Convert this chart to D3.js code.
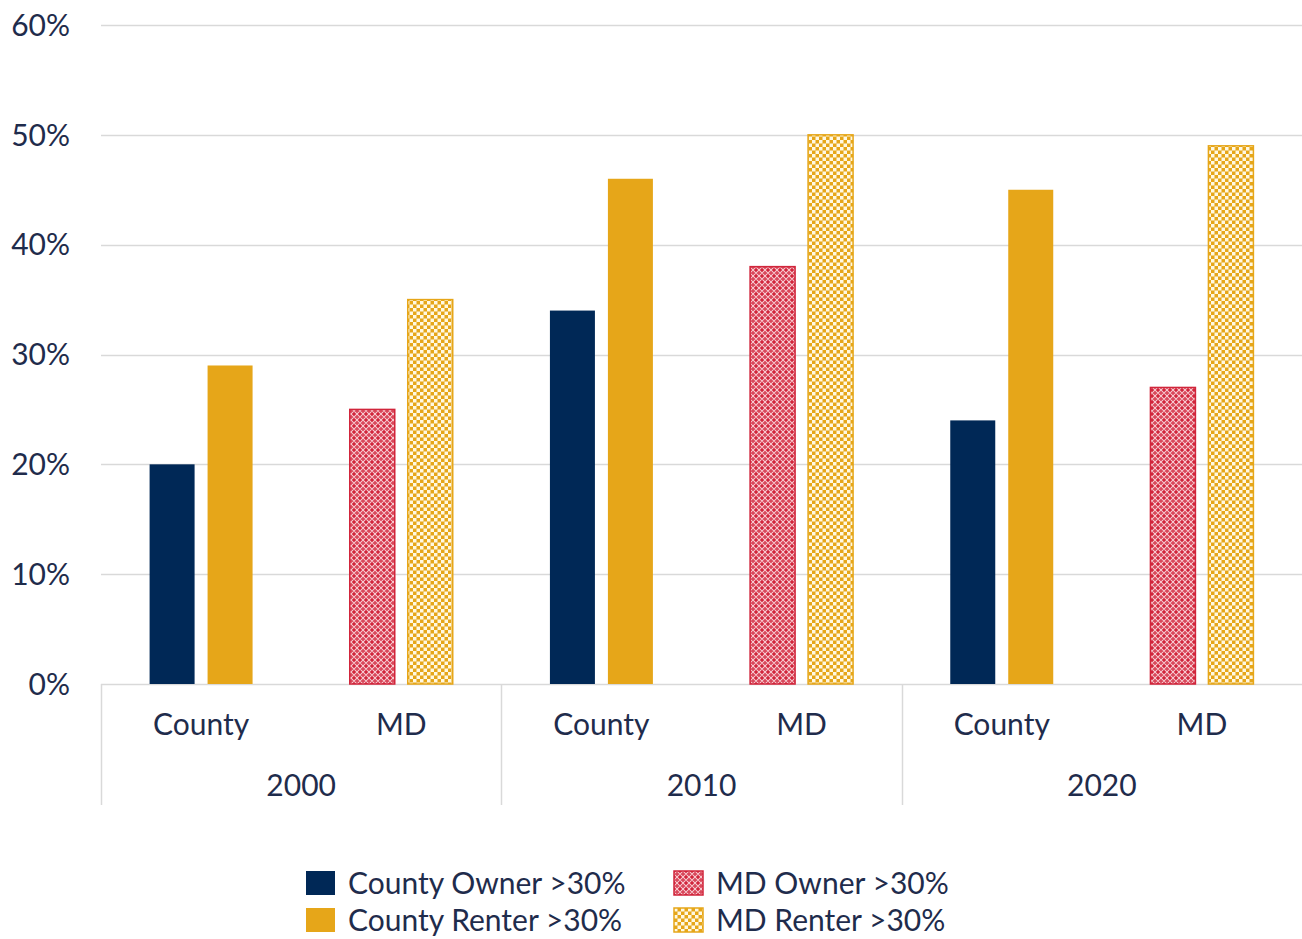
<!DOCTYPE html>
<html>
<head>
<meta charset="utf-8">
<script src="https://cdn.jsdelivr.net/npm/d3@7"></script>
<style>
  html, body { margin: 0; padding: 0; background: #fff; }
  svg text { font-family: Lato, "Noto Sans", sans-serif; fill: #1f2c4c; }
</style>
</head>
<body>
<svg id="chart" width="1302" height="939"></svg>
<script>
var years = ["2000", "2010", "2020"],
  regions = ["County", "MD"],
  tenures = ["Owner", "Renter"],
  yTicks = [0, 10, 20, 30, 40, 50, 60];

// share of households paying >30% of income, by year
var countyOwner = [20, 34, 24],
  countyRenter = [29, 46, 45],
  mdOwner = [25, 38, 27],
  mdRenter = [35, 50, 49];

var seriesNames = ["County Owner >30%", "County Renter >30%", "MD Owner >30%", "MD Renter >30%"];

var svg = d3.select("#chart"),
  margin = { top: 25, right: 0, bottom: 255, left: 101 },
  width = 1302,
  height = 939,
  plotBottom = height - margin.bottom,
  fontSize = 30,
  gridColor = "#d9d9d9",
  navy = "#002856",
  gold = "#e6a619",
  red = "#d1253b";

var defs = svg.append("defs");

// red lattice fill
var pRed = defs.append("pattern")
  .attr("id", "mdOwnerFill")
  .attr("patternUnits", "userSpaceOnUse")
  .attr("width", 6).attr("height", 6);
pRed.append("rect").attr("width", 6).attr("height", 6).attr("fill", red);
pRed.append("path")
  .attr("d", "M0,3 L3,0 L6,3 L3,6 Z")
  .attr("fill", "none")
  .attr("stroke", "#f7c9cf")
  .attr("stroke-width", 1.1);
pRed.append("rect").attr("x", 2.5).attr("y", 2.5).attr("width", 1).attr("height", 1).attr("fill", "#f3b3bc");

// gold checkerboard fill
var pGold = defs.append("pattern")
  .attr("id", "mdRenterFill")
  .attr("patternUnits", "userSpaceOnUse")
  .attr("width", 7).attr("height", 7);
pGold.append("rect").attr("width", 7).attr("height", 7).attr("fill", gold);
pGold.append("rect").attr("width", 3.5).attr("height", 3.5).attr("fill", "#fff8e2");
pGold.append("rect").attr("x", 3.5).attr("y", 3.5).attr("width", 3.5).attr("height", 3.5).attr("fill", "#fff8e2");

var fills = [navy, gold, "url(#mdOwnerFill)", "url(#mdRenterFill)"],
  strokes = [null, null, red, gold];

var x0 = d3.scaleBand().domain(years).range([margin.left, width - margin.right]).padding(0),
  x1 = d3.scaleBand().domain(regions).range([0, x0.bandwidth()]).padding(0),
  x2 = d3.scaleBand().domain(tenures).range([0, x1.bandwidth()]).paddingInner(0.224).paddingOuter(0.838),
  y = d3.scaleLinear().domain([0, 60]).range([plotBottom, margin.top]);

// gridlines
svg.append("g")
  .selectAll("line")
  .data(yTicks)
  .join("line")
  .attr("x1", margin.left)
  .attr("x2", width)
  .attr("y1", function(d) { return Math.round(y(d)) + 0.5; })
  .attr("y2", function(d) { return Math.round(y(d)) + 0.5; })
  .attr("stroke", gridColor)
  .attr("stroke-width", 1.5);

// y tick labels
svg.append("g")
  .selectAll("text")
  .data(yTicks)
  .join("text")
  .attr("x", 70)
  .attr("y", function(d) { return y(d); })
  .attr("dy", "0.36em")
  .attr("text-anchor", "end")
  .attr("font-size", fontSize)
  .text(function(d) { return d + "%"; });

// bars
var rows = [];
years.forEach(function(yr, i) {
  rows.push({ year: yr, region: "County", tenure: "Owner", value: countyOwner[i], s: 0 });
  rows.push({ year: yr, region: "County", tenure: "Renter", value: countyRenter[i], s: 1 });
  rows.push({ year: yr, region: "MD", tenure: "Owner", value: mdOwner[i], s: 2 });
  rows.push({ year: yr, region: "MD", tenure: "Renter", value: mdRenter[i], s: 3 });
});

svg.append("g")
  .selectAll("rect")
  .data(rows)
  .join("rect")
  .attr("x", function(d) { return x0(d.year) + x1(d.region) + x2(d.tenure); })
  .attr("y", function(d) { return y(d.value); })
  .attr("width", x2.bandwidth())
  .attr("height", function(d) { return plotBottom - y(d.value); })
  .attr("fill", function(d) { return fills[d.s]; })
  .attr("stroke", function(d) { return strokes[d.s]; })
  .attr("stroke-width", 1.5);

// category axis separators
var seps = years.map(function(yr) { return x0(yr); });
svg.append("g")
  .selectAll("line")
  .data(seps)
  .join("line")
  .attr("x1", function(d) { return Math.round(d) + 0.5; })
  .attr("x2", function(d) { return Math.round(d) + 0.5; })
  .attr("y1", plotBottom)
  .attr("y2", plotBottom + 121)
  .attr("stroke", gridColor)
  .attr("stroke-width", 1.5);

// region labels
var subLabels = [];
years.forEach(function(yr) {
  regions.forEach(function(r) { subLabels.push({ year: yr, region: r }); });
});
svg.append("g")
  .selectAll("text")
  .data(subLabels)
  .join("text")
  .attr("x", function(d) { return x0(d.year) + x1(d.region) + x1.bandwidth() / 2; })
  .attr("y", plotBottom + 51)
  .attr("text-anchor", "middle")
  .attr("font-size", fontSize)
  .text(function(d) { return d.region; });

// year labels
svg.append("g")
  .selectAll("text")
  .data(years)
  .join("text")
  .attr("x", function(d) { return x0(d) + x0.bandwidth() / 2; })
  .attr("y", plotBottom + 112)
  .attr("text-anchor", "middle")
  .attr("font-size", fontSize)
  .text(function(d) { return d; });

// legend
var legendPos = [[306, 871], [306, 908], [674, 871], [674, 908]];
var legend = svg.append("g")
  .selectAll("g")
  .data(seriesNames)
  .join("g")
  .attr("transform", function(d, i) { return "translate(" + legendPos[i][0] + "," + legendPos[i][1] + ")"; });

legend.append("rect")
  .attr("width", 29)
  .attr("height", 24)
  .attr("fill", function(d, i) { return fills[i]; })
  .attr("stroke", function(d, i) { return strokes[i]; })
  .attr("stroke-width", 1.5);

legend.append("text")
  .attr("x", 42)
  .attr("y", 12)
  .attr("dy", "0.36em")
  .attr("font-size", fontSize)
  .text(function(d) { return d; });
</script>
</body>
</html>
